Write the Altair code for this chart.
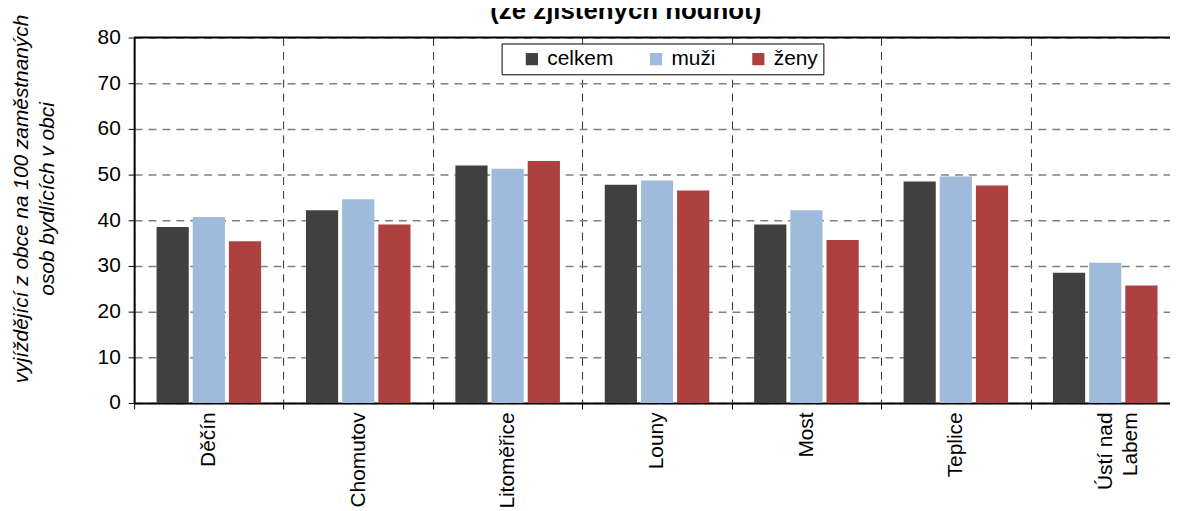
import altair as alt
import pandas as pd

districts = ["Děčín", "Chomutov", "Litoměřice", "Louny", "Most", "Teplice", "Ústí nad Labem"]
celkem = [38.5, 42.2, 52.0, 47.8, 39.1, 48.5, 28.5]
muzi = [40.7, 44.6, 51.3, 48.7, 42.2, 49.6, 30.7]
zeny = [35.4, 39.1, 53.0, 46.5, 35.7, 47.6, 25.7]
series = ["celkem", "muži", "ženy"]
colors = ["#404040", "#9fbadb", "#ae4040"]
y_ticks = [0, 10, 20, 30, 40, 50, 60, 70, 80]
title_text = "(ze zjištěných hodnot)"
y_title = ["vyjíždějící z obce na 100 zaměstnaných", "osob bydlících v obci"]

rows = []
for i, d in enumerate(districts):
    for s, vals in zip(series, [celkem, muzi, zeny]):
        rows.append({"okres": d, "skupina": s, "hodnota": vals[i]})
df = pd.DataFrame(rows)

W = 1053
H = 368
FONT = "Liberation Sans"
FS = 21

bars = alt.Chart(df).mark_bar().encode(
    x=alt.X(
        "okres:N",
        sort=districts,
        scale=alt.Scale(paddingInner=0, paddingOuter=0),
        axis=alt.Axis(
            title=None,
            labelAngle=270,
            labelAlign="right",
            labelBaseline="middle",
            labelFontSize=FS,
            labelPadding=3,
            labelColor="black",
            labelLineHeight=26,
            labelExpr="datum.label == 'Ústí nad Labem' ? ['Ústí nad', 'Labem'] : datum.label",
            tickBand="extent",
            grid=True,
            gridColor="#303030",
            gridDash=[8, 6],
            gridWidth=1,
            domainColor="black",
            domainWidth=2,
            tickColor="black",
            tickSize=6,
        ),
    ),
    xOffset=alt.XOffset(
        "skupina:N", sort=series,
        scale=alt.Scale(paddingInner=0.11, paddingOuter=0.62),
    ),
    y=alt.Y(
        "hodnota:Q",
        scale=alt.Scale(domain=[0, 80], nice=False),
        axis=alt.Axis(
            values=y_ticks,
            title=y_title,
            titleFontStyle="italic",
            titleFontWeight="normal",
            titleFontSize=FS,
            titleColor="black",
            titleAngle=270,
            titleX=-113,
            titleY=162,
            titleAlign="center",
            titleBaseline="middle",
            titleLineHeight=26,
            labelFontSize=FS,
            labelColor="black",
            labelPadding=8,
            grid=True,
            gridColor="#808080",
            gridDash=[8, 6],
            gridWidth=1.5,
            domainColor="black",
            domainWidth=2,
            tickColor="black",
            tickSize=6,
        ),
    ),
    color=alt.Color(
        "skupina:N",
        sort=series,
        scale=alt.Scale(domain=series, range=colors),
        legend=alt.Legend(
            title=None,
            orient="none",
            legendX=370,
            legendY=6,
            direction="horizontal",
            strokeColor="black",
            fillColor="white",
            padding=5,
            symbolType="square",
            symbolSize=150,
            symbolStrokeWidth=0,
            symbolOffset=15,
            labelFontSize=FS,
            labelColor="black",
            labelOffset=5,
            columnPadding=17,
            labelExpr="datum.label == 'ženy' ? 'ženy  ' : datum.label",
        ),
    ),
)

one = pd.DataFrame({"k": [0]})
top_line = alt.Chart(one).mark_rule(color="black", strokeWidth=2).encode(
    y=alt.value(0), x=alt.value(0), x2=alt.value(W)
)
title = alt.Chart(one).mark_text(
    fontSize=26, fontWeight="bold", font=FONT, color="black", align="center", baseline="alphabetic"
).encode(x=alt.value(495), y=alt.value(-19), text=alt.value(title_text))

chart = alt.layer(bars, top_line, title).properties(
    width=W,
    height=H,
    padding={"left": 127, "top": 28, "right": -10, "bottom": 107},
    autosize=alt.AutoSizeParams(type="none"),
).configure(font=FONT).configure_view(stroke=None)

chart.save("out.html", embed_options={"renderer": "svg", "actions": False})
